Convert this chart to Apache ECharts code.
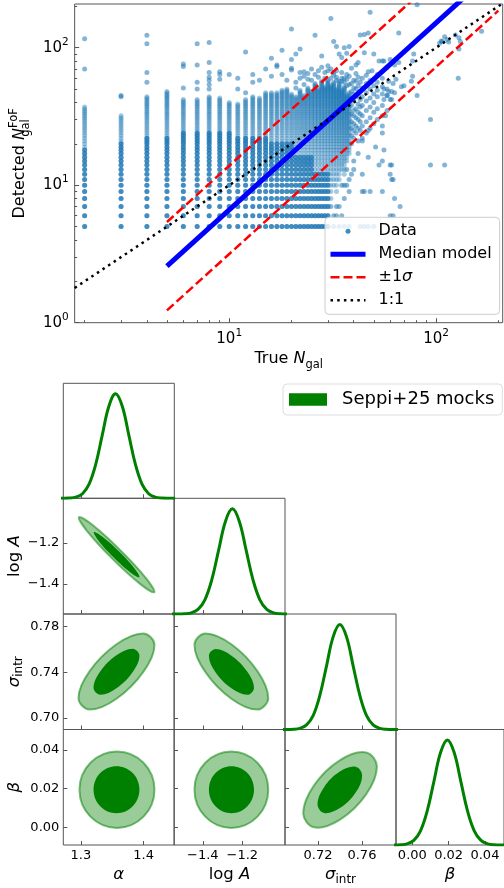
<!DOCTYPE html>
<html lang="en">
<head>
    <meta charset="utf-8">
    <title>Richness calibration</title>
    <script src="https://cdn.jsdelivr.net/npm/echarts@6.0.0/dist/echarts.min.js"></script>
    <style>
        html, body { margin: 0; padding: 0; background: #fff; }
        #main { width: 504px; height: 888px; }
    </style>
</head>
<body>
    <div id="main"></div>

    <script type="text/javascript">

    var FONT = 'DejaVu Sans';
    var INK = '#000';
    var SPINE = '#555';

    // ---- top panel: detected vs true richness ----
    // every integer count from colBottom up to colTop is present in these columns
    var colX      = [2, 3, 4, 5, 6, 7, 8, 9, 10, 11, 12, 13, 14, 15, 16, 17, 18, 19, 20, 21, 22, 23, 24, 25, 26, 27, 28, 29, 30,
                     31, 32, 33, 34, 35, 36, 37, 38];
    var colBottom = [5, 5, 5, 5, 5, 5, 5, 5, 5, 5, 5, 5, 5, 5, 5, 5, 5, 5, 5, 5, 5, 5, 5, 5, 5, 5, 5, 5, 5,
                     8, 10, 9, 11, 13, 12, 15, 17];
    var colTop    = [37, 32, 44, 48, 42, 42, 44, 43, 40, 39, 42, 44, 43, 47, 47, 47, 49, 50, 46, 44, 49, 45, 51, 48, 55, 50, 57, 52, 58,
                     53, 56, 50, 55, 49, 52, 45, 47];
    // where many clusters stack on the same value (darker part of the column)
    var colCore   = [18, 20, 22, 22, 24, 24, 24, 24, 24, 22, 22, 22, 22, 22, 20, 20, 20, 20, 20, 16, 16, 16, 16, 16, 12, 12, 12, 12, 12,
                     0, 0, 0, 0, 0, 0, 0, 0];

    var cloudCols = [
        [31, [60, 70]], [32, [63, 66]], [33, [61, 68]], [34, [57, 90]], [35, [60, 66]], [36, [56]], [37, [59, 64]], [38, [54, 62]],
        [39, [20, 23, 26, 29, 33, 38, 43, 48, 55, 71]],
        [40, [22, 25, 28, 32, 35, 41, 46, 51, 58]],
        [41, [24, 27, 31, 36, 44, 50, 57, 65, 75]],
        [42, [21, 26, 30, 34, 39, 45, 53, 61, 78]],
        [43, [25, 29, 33, 37, 42, 48, 56]],
        [44, [22, 27, 32, 38, 44, 51, 60]],
        [46, [24, 29, 35, 41, 47, 55, 63]],
        [48, [26, 31, 37, 43, 50, 58]],
        [50, [28, 34, 40, 46, 53]],
        [52, [30, 36, 44, 49, 56, 64]],
        [55, [32, 38, 46, 52]],
        [58, [35, 45, 50, 72]]
    ];

    var upperOutliers = [[2,70],[2,116],[3,44],[3,45],[4,56],[4,66],[4,107],[4,123],[6,51],[6,73],[6,76],[7,50],[7,56],[7,75],[7,107],
        [8,50],[8,54],[8,58],[8,61],[8,66],[8,78],[8,109],[9,59],[9,64],[9,67],[10,64],[11,50],[11,60],[12,47],[12,93],[13,56],[13,64],
        [14,58],[15,70],[16,62],[16,84],[17,73],[17,75],[18,64],[18,96],[19,58],[20,69],[20,71],[20,82],[20,137],[21,56],[21,90],[22,60],
        [22,66],[22,98],[23,62],[23,67],[24,59],[24,65],[25,70],[26,64],[26,123],[27,68],[28,72],[28,87],[29,66],[30,68],[30,74],[31,163],
        [32,111],[33,102],[35,85],[36,100],[37,91],[38,102],[43,124],[45,92],[45,125],[47,128],[47,67],[48,181],[49,68],[50,90],[53,80],
        [55,60],[55,80],[56,50],[59,48],[58,45],[61,42],[23,54],[25,58],[27,61],[29,60],[21,51],[33,58],[35,57],[37,53],[36,60]];

    var rightPts = [[60,82],[56,80],[63,75],[66,78],[77,80],[78,90],[64,59],[62,55],[59,57],[61,48],[63,47],[60,42],[56,42],[57,32],
        [55,27],[55,24],[70,53],[68,52],[77,62],[76,57],[81,45],[66,128],[81,205],[104,108],[106,112],[107,111],[110,120],[113,115],
        [115,110],[124,124],[128,60],[129,98],[129,118],[131,111],[166,132],[94,30],[94,14],[110,14],[55,15],[60,14],[61,14],[60,12],
        [61,11],[62,11],[55,9],[63,8],[67,7],[60,6],[62,6]];

    var lowerPts = [[31,7],[33,7],[34,7],[32,6],[33,6],[35,6],[32,5],[34,5],[36,5],[38,5],[36,8],[37,10],[38,9],[39,12],[40,13],
        [43,5],[45,5],[47,5],[50,5],[44,12],[53,14],[45,9],[48,9],[44,9],[35,10],[37,13],[40,15],[42,17],[38,11],[36,10],[47,16],[51,19],
        [44,21],[47,25],[56,18]];

    var medianLine = [[5, 2.58], [200, 389]];
    var upperLine  = [[5, 5.40], [200, 815]];
    var lowerLine  = [[5, 1.23], [200, 186]];
    var oneToOne   = [[1.79, 1.79], [210, 210]];

    var majorTicks = [1, 10, 100];
    var minorTicks = [2, 3, 4, 5, 6, 7, 8, 9, 20, 30, 40, 50, 60, 70, 80, 90, 200];

    // ---- corner plot ----
    var pdfShape = [0.0000, 0.0003, 0.0022, 0.0111, 0.0439, 0.1353, 0.3247, 0.6065, 0.8825, 1.0000,
                    0.8825, 0.6065, 0.3247, 0.1353, 0.0439, 0.0111, 0.0022, 0.0003, 0.0000];
    var alphaGrid = [1.2603, 1.2709, 1.2815, 1.2920, 1.3026, 1.3131, 1.3237, 1.3342, 1.3448, 1.3553,
                     1.3659, 1.3764, 1.3870, 1.3975, 1.4081, 1.4186, 1.4292, 1.4397, 1.4503];
    var logAGrid  = [-1.5636, -1.5288, -1.4940, -1.4592, -1.4244, -1.3896, -1.3548, -1.3200, -1.2852, -1.2504,
                     -1.2156, -1.1808, -1.1460, -1.1112, -1.0764, -1.0416, -1.0068, -0.9720, -0.9372];
    var sigmaGrid = [0.6854, 0.6914, 0.6975, 0.7035, 0.7096, 0.7157, 0.7217, 0.7278, 0.7338, 0.7399,
                     0.7460, 0.7520, 0.7581, 0.7641, 0.7702, 0.7763, 0.7823, 0.7884, 0.7944];
    var betaGrid  = [-0.0140, -0.0103, -0.0066, -0.0029, 0.0008, 0.0045, 0.0082, 0.0119, 0.0156, 0.0193,
                     0.0230, 0.0267, 0.0304, 0.0341, 0.0378, 0.0415, 0.0452, 0.0489, 0.0526];

    // 95% and 68% contours, (x, y) in parameter units
    var aL95 = [[1.4171,-1.4402],[1.4041,-1.3726],[1.3636,-1.2380],[1.3192,-1.1150],[1.2969,-1.0758],[1.3099,-1.1434],[1.3504,-1.2781],[1.3949,-1.4010]];
    var aL68 = [[1.3934,-1.3678],[1.3859,-1.3258],[1.3615,-1.2442],[1.3345,-1.1706],[1.3206,-1.1482],[1.3281,-1.1902],[1.3525,-1.2718],[1.3795,-1.3454]];
    var aS95 = [[1.4174,0.7640],[1.3996,0.7740],[1.3568,0.7645],[1.3140,0.7410],[1.2962,0.7174],[1.3140,0.7074],[1.3568,0.7169],[1.3996,0.7404]];
    var aS68 = [[1.3934,0.7546],[1.3827,0.7607],[1.3568,0.7549],[1.3309,0.7407],[1.3202,0.7264],[1.3309,0.7203],[1.3568,0.7261],[1.3827,0.7403]];
    var lS95 = [[-1.0688,0.7174],[-1.1235,0.7410],[-1.2556,0.7645],[-1.3877,0.7740],[-1.4424,0.7640],[-1.3877,0.7404],[-1.2556,0.7169],[-1.1235,0.7074]];
    var lS68 = [[-1.1410,0.7263],[-1.1744,0.7405],[-1.2551,0.7546],[-1.3358,0.7603],[-1.3692,0.7543],[-1.3358,0.7401],[-1.2551,0.7260],[-1.1744,0.7203]];
    var aB95 = [[1.4174,0.0195],[1.3999,0.0334],[1.3576,0.0392],[1.3153,0.0334],[1.2978,0.0195],[1.3153,0.0056],[1.3576,-0.0002],[1.3999,0.0056]];
    var aB68 = [[1.3934,0.0195],[1.3827,0.0281],[1.3568,0.0316],[1.3309,0.0281],[1.3202,0.0195],[1.3309,0.0110],[1.3568,0.0074],[1.3827,0.0110]];
    var lB95 = [[-1.0688,0.0195],[-1.1235,0.0334],[-1.2556,0.0392],[-1.3877,0.0334],[-1.4424,0.0195],[-1.3877,0.0056],[-1.2556,-0.0002],[-1.1235,0.0056]];
    var lB68 = [[-1.1410,0.0195],[-1.1744,0.0281],[-1.2551,0.0316],[-1.3358,0.0281],[-1.3692,0.0195],[-1.3358,0.0110],[-1.2551,0.0074],[-1.1744,0.0110]];
    var sB95 = [[0.7736,0.0315],[0.7638,0.0387],[0.7401,0.0347],[0.7164,0.0217],[0.7066,0.0073],[0.7164,0.0001],[0.7401,0.0041],[0.7638,0.0171]];
    var sB68 = [[0.7602,0.0268],[0.7543,0.0313],[0.7399,0.0288],[0.7256,0.0208],[0.7196,0.0120],[0.7256,0.0075],[0.7399,0.0100],[0.7543,0.0180]];

    var pRange  = [[1.272, 1.449], [-1.546, -0.984], [0.690, 0.791], [-0.009, 0.0505]];
    var pTicksX = [[1.3, 1.4], [-1.4, -1.2], [0.72, 0.76], [0, 0.02, 0.04]];
    var pTicksY = [[], [-1.4, -1.2], [0.70, 0.74, 0.78], [0, 0.02, 0.04]];
    var pNames  = ['{i|α}', '{t|log }{i|A}', '{i|σ}{sub|intr}', '{i|β}'];
    var diagGrids = [alphaGrid, logAGrid, sigmaGrid, betaGrid];
    var contours = {'0,1': [aL95, aL68], '0,2': [aS95, aS68], '1,2': [lS95, lS68],
                    '0,3': [aB95, aB68], '1,3': [lB95, lB68], '2,3': [sB95, sB68]};

    var pFmt = [
        function (v) { return v.toFixed(1); },
        function (v) { return (v < 0 ? '\u2212' : '') + Math.abs(v).toFixed(1); },
        function (v) { return v.toFixed(2); },
        function (v) { return v.toFixed(2); }
    ];

    // ---- build ----
    var runData = [], coreData = [], sparseData = [];
    colX.forEach(function (x, i) {
        for (var y = colBottom[i]; y <= colTop[i]; y++) runData.push([x, y]);
        for (var y2 = 5; y2 <= colCore[i]; y2++) coreData.push([x, y2]);
    });
    cloudCols.forEach(function (c) {
        c[1].forEach(function (y) { sparseData.push([c[0], y]); });
    });
    sparseData = sparseData.concat(upperOutliers, rightPts, lowerPts);

    var tickRich = {
        b: {fontSize: 15, fontFamily: FONT, color: INK, lineHeight: 22},
        e: {fontSize: 10.5, fontFamily: FONT, color: INK, verticalAlign: 'top'}
    };
    function powLabel(v) {
        return '{b|10}{e|' + Math.round(Math.log10(v)) + '}';
    }
    var nameRich = {
        t: {fontSize: 16, fontFamily: FONT, color: INK, lineHeight: 24},
        i: {fontSize: 16, fontFamily: FONT, fontStyle: 'italic', color: INK, lineHeight: 24},
        sub: {fontSize: 11.5, fontFamily: FONT, color: INK, verticalAlign: 'bottom'},
        subz: {fontSize: 11.5, fontFamily: FONT, color: INK, verticalAlign: 'bottom', width: 0},
        sup: {fontSize: 11.5, fontFamily: FONT, color: INK, verticalAlign: 'top'}
    };
    var cornerRich = {
        t: {fontSize: 16.5, fontFamily: FONT, color: INK, lineHeight: 22},
        i: {fontSize: 16.5, fontFamily: FONT, fontStyle: 'italic', color: INK, lineHeight: 22},
        sub: {fontSize: 12, fontFamily: FONT, color: INK, verticalAlign: 'bottom'}
    };

    var grids = [{left: 73.3, top: 4, width: 429.4, height: 318.7, show: true, borderColor: SPINE, borderWidth: 1}];
    var xAxes = [{
        gridIndex: 0, type: 'log', logBase: 10, min: 1.79, max: 210,
        axisLine: {show: false, onZero: false}, splitLine: {show: false},
        axisTick: {inside: true, length: 4.5, customValues: majorTicks, lineStyle: {color: SPINE}},
        axisLabel: {customValues: majorTicks, formatter: powLabel, rich: tickRich, margin: 5},
        name: '{t|True }{i|N}{sub|gal}', nameLocation: 'middle', nameGap: 24,
        nameTextStyle: {rich: nameRich}
    }, {
        gridIndex: 0, type: 'log', logBase: 10, min: 1.79, max: 210, position: 'bottom',
        axisLine: {show: false, onZero: false}, splitLine: {show: false}, axisLabel: {show: false},
        axisTick: {inside: true, length: 2.5, customValues: minorTicks, lineStyle: {color: SPINE}}
    }];
    var yAxes = [{
        gridIndex: 0, type: 'log', logBase: 10, min: 1, max: 208,
        axisLine: {show: false, onZero: false}, splitLine: {show: false},
        axisTick: {inside: true, length: 4.5, customValues: majorTicks, lineStyle: {color: SPINE}},
        axisLabel: {customValues: majorTicks, formatter: powLabel, rich: tickRich, margin: 6},
        name: '{t|Detected }{i|N}{subz|gal}{sup|FoF}', nameLocation: 'middle', nameGap: 38,
        nameTextStyle: {rich: nameRich}
    }, {
        gridIndex: 0, type: 'log', logBase: 10, min: 1, max: 208, position: 'left',
        axisLine: {show: false, onZero: false}, splitLine: {show: false}, axisLabel: {show: false},
        axisTick: {inside: true, length: 2.5, customValues: minorTicks, lineStyle: {color: SPINE}}
    }];

    var medianStyle = {color: '#0000ff', width: 5};
    var sigmaStyle = {color: '#ff0000', width: 2.5, type: [9, 4]};
    var unityStyle = {color: '#000', width: 2.5, type: [2.5, 4.2]};

    var series = [
        {name: 'Data', type: 'scatter', xAxisIndex: 0, yAxisIndex: 0, data: runData, symbolSize: 5,
         itemStyle: {color: '#1f77b4', opacity: 0.4}, silent: true},
        {name: 'Data', type: 'scatter', xAxisIndex: 0, yAxisIndex: 0, data: coreData, symbolSize: 5,
         itemStyle: {color: '#1f77b4', opacity: 0.75}, silent: true},
        {name: 'Data', type: 'scatter', xAxisIndex: 0, yAxisIndex: 0, data: sparseData, symbolSize: 5,
         itemStyle: {color: '#1f77b4', opacity: 0.55}, silent: true},
        {name: 'Median model', type: 'line', xAxisIndex: 0, yAxisIndex: 0, data: medianLine, symbol: 'none',
         lineStyle: medianStyle, itemStyle: {color: '#0000ff'}, silent: true},
        {name: '±1σ', type: 'line', xAxisIndex: 0, yAxisIndex: 0, data: upperLine, symbol: 'none',
         lineStyle: sigmaStyle, itemStyle: {color: '#ff0000'}, silent: true},
        {name: '±1σ', type: 'line', xAxisIndex: 0, yAxisIndex: 0, data: lowerLine, symbol: 'none',
         lineStyle: sigmaStyle, itemStyle: {color: '#ff0000'}, silent: true},
        {name: '1:1', type: 'line', xAxisIndex: 0, yAxisIndex: 0, data: oneToOne, symbol: 'none',
         lineStyle: unityStyle, itemStyle: {color: '#000'}, silent: true}
    ];

    var cLeft = [63.3, 174, 285, 396];
    var cTop  = [383.3, 498.3, 614, 729.5];
    var cH    = [115, 115.7, 115.5, 115.5];
    var cW    = 111;

    function contourSeries(pts, xi, yi, outer) {
        return {
            name: 'Seppi+25 mocks', type: 'custom', coordinateSystem: 'cartesian2d',
            xAxisIndex: xi, yAxisIndex: yi, data: pts, silent: true,
            itemStyle: {color: '#008000'},
            renderItem: function (params, api) {
                if (params.dataIndex !== 0) return;
                var p = pts.map(function (d) { return api.coord(d); });
                return {
                    type: 'polygon',
                    shape: {points: p, smooth: 0.375},
                    style: outer
                        ? {fill: 'rgba(0,128,0,0.4)', stroke: 'rgba(0,128,0,0.5)', lineWidth: 2}
                        : {fill: '#008000', stroke: null}
                };
            }
        };
    }

    for (var r = 0; r < 4; r++) {
        for (var c = 0; c <= r; c++) {
            var g = grids.length;
            grids.push({left: cLeft[c], top: cTop[r], width: cW, height: cH[r], show: true,
                        borderColor: SPINE, borderWidth: 1});
            xAxes.push({
                gridIndex: g, type: 'value', min: pRange[c][0], max: pRange[c][1],
                axisLine: {show: false, onZero: false}, splitLine: {show: false},
                axisTick: {inside: true, length: 4, customValues: pTicksX[c], lineStyle: {color: SPINE}},
                axisLabel: {show: r === 3, customValues: pTicksX[c], formatter: pFmt[c],
                            fontSize: 13, fontFamily: FONT, color: INK, margin: 4},
                name: r === 3 ? pNames[c] : '', nameLocation: 'middle', nameGap: 19,
                nameTextStyle: {rich: cornerRich}
            });
            if (r === c) {
                yAxes.push({gridIndex: g, type: 'value', min: 0, max: 1.1, show: false});
            } else {
                yAxes.push({
                    gridIndex: g, type: 'value', min: pRange[r][0], max: pRange[r][1],
                    axisLine: {show: false, onZero: false}, splitLine: {show: false},
                    axisTick: {inside: true, length: 4, customValues: pTicksY[r], lineStyle: {color: SPINE}},
                    axisLabel: {show: c === 0, customValues: pTicksY[r], formatter: pFmt[r],
                                fontSize: 13, fontFamily: FONT, color: INK, margin: 4},
                    name: c === 0 ? pNames[r] : '', nameLocation: 'middle', nameGap: 38,
                    nameTextStyle: {rich: cornerRich}
                });
            }
            var xi = xAxes.length - 1, yi = yAxes.length - 1;
            if (r === c) {
                series.push({
                    name: 'pdf', type: 'line', xAxisIndex: xi, yAxisIndex: yi, symbol: 'none', smooth: 0.4,
                    data: diagGrids[c].map(function (x, k) { return [x, pdfShape[k]]; }),
                    lineStyle: {color: '#008000', width: 3}, silent: true
                });
            } else {
                var pair = contours[c + ',' + r];
                series.push(contourSeries(pair[0], xi, yi, true));
                series.push(contourSeries(pair[1], xi, yi, false));
            }
        }
    }

    var myChart = echarts.init(document.getElementById('main'));
    myChart.setOption({
        animation: false,
        textStyle: {fontFamily: FONT},
        grid: grids,
        xAxis: xAxes,
        yAxis: yAxes,
        legend: [{
            data: [{name: 'Data', icon: 'circle', itemStyle: {color: '#1f77b4', opacity: 0.85}},
                   {name: 'Median model', itemStyle: {opacity: 0}, lineStyle: medianStyle},
                   {name: '±1σ', itemStyle: {opacity: 0}, lineStyle: sigmaStyle},
                   {name: '1:1', itemStyle: {opacity: 0}, lineStyle: unityStyle}],
            orient: 'vertical', left: 325, top: 217.3,
            itemWidth: 35, itemHeight: 5, itemGap: 7,
            padding: [6, 8, 6, 3],
            backgroundColor: 'rgba(255,255,255,0.8)', borderColor: '#ccc', borderWidth: 1, borderRadius: 4,
            selectedMode: false,
            formatter: function (n) { return n === '±1σ' ? '{t|±1}{i|σ}' : '{t|' + n + '}'; },
            textStyle: {
                fontSize: 16, fontFamily: FONT, color: INK, padding: [0, 0, 0, 8],
                rich: {
                    t: {fontSize: 16, fontFamily: FONT, color: INK},
                    i: {fontSize: 16, fontFamily: FONT, fontStyle: 'italic', color: INK}
                }
            }
        }, {
            data: [{name: 'Seppi+25 mocks', icon: 'rect', itemStyle: {color: '#008000', opacity: 1}}],
            orient: 'vertical', left: 283, top: 384,
            itemWidth: 38, itemHeight: 12.5,
            padding: [6.5, 8, 6.5, 6],
            backgroundColor: '#fff', borderColor: '#ddd', borderWidth: 1, borderRadius: 4,
            selectedMode: false,
            textStyle: {fontSize: 18, fontFamily: FONT, color: INK, padding: [0, 0, 0, 10]}
        }],
        series: series
    });

    </script>
</body>
</html>
